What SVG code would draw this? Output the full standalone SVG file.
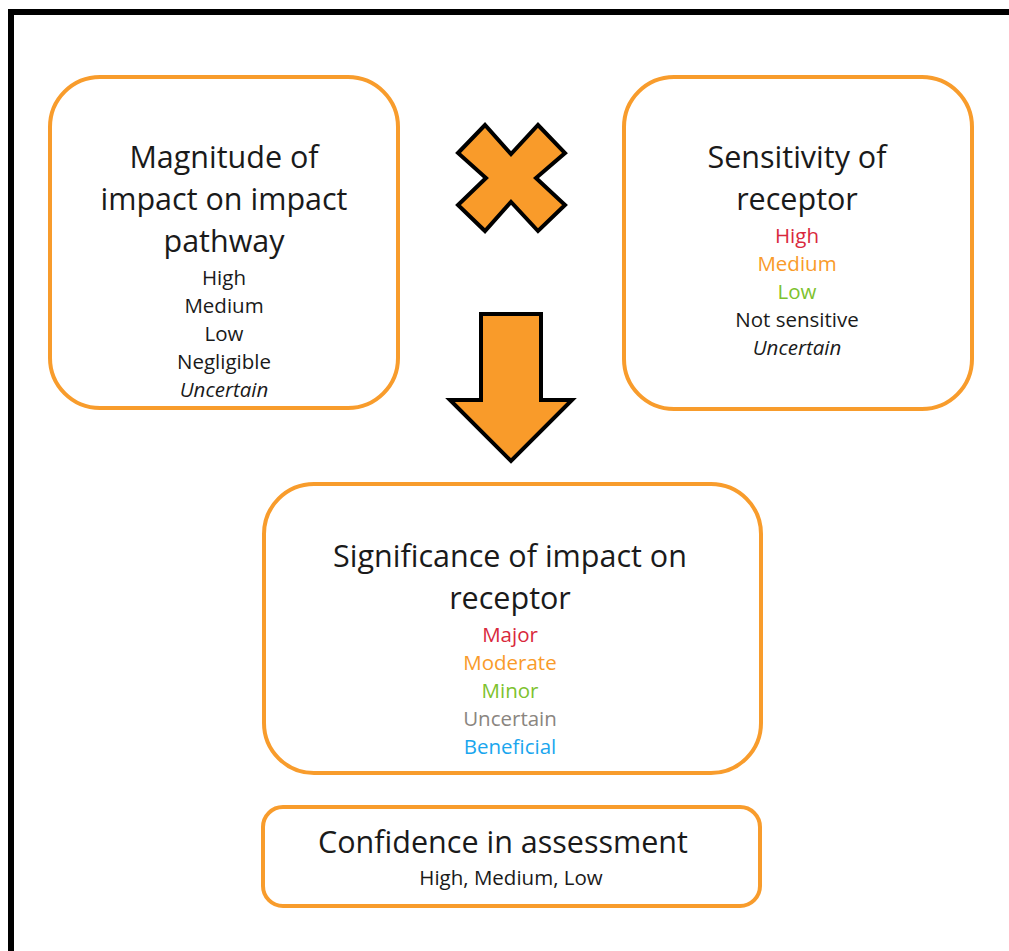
<svg xmlns="http://www.w3.org/2000/svg" width="1009" height="951" viewBox="0 0 1009 951">
<style>
.box{fill:#fff;stroke:#F89C2C;stroke-width:4}
.shape{fill:#F99B2A;stroke:#000;stroke-width:4;stroke-linejoin:miter}
text{font-family:"Open Sans","Noto Sans",sans-serif;text-anchor:middle;fill:#1a1a1a}
.t{font-size:30.5px}
.s{font-size:20.5px}
.i{font-style:italic}
.red{fill:#D9283C}
.org{fill:#F99B2A}
.grn{fill:#7DC22E}
.gry{fill:#8A8580}
.blu{fill:#1AA6EE}
</style>
<rect x="0" y="0" width="1009" height="951" fill="#fff"/>
<rect x="11" y="12" width="1010" height="960" fill="none" stroke="#000" stroke-width="6"/>
<g id="connectors">
<polygon class="shape" points="458,153 485,125 511,154 538,125 565,153 536,178 565,205 538,231 511,202 485,231 458,205 486,178"/>
<polygon class="shape" points="481,314 541,314 541,400 572,400 511,461 450,400 481,400"/>
</g>
<g id="magnitude">
<rect class="box" x="50" y="77" width="348" height="331" rx="50"/>
<text class="t" x="224" y="168">Magnitude of</text>
<text class="t" x="224" y="210">impact on impact</text>
<text class="t" x="224" y="252">pathway</text>
<text class="s" x="224" y="285">High</text>
<text class="s" x="224" y="313">Medium</text>
<text class="s" x="224" y="341">Low</text>
<text class="s" x="224" y="369">Negligible</text>
<text class="s i" x="224" y="397">Uncertain</text>
</g>
<g id="sensitivity">
<rect class="box" x="624" y="77" width="348" height="332" rx="50"/>
<text class="t" x="797" y="168">Sensitivity of</text>
<text class="t" x="797" y="210">receptor</text>
<text class="s red" x="797" y="243">High</text>
<text class="s org" x="797" y="271">Medium</text>
<text class="s grn" x="797" y="299">Low</text>
<text class="s" x="797" y="327">Not sensitive</text>
<text class="s i" x="797" y="355">Uncertain</text>
</g>
<g id="significance">
<rect class="box" x="264" y="484" width="497" height="289" rx="50"/>
<text class="t" x="510" y="567">Significance of impact on</text>
<text class="t" x="510" y="609">receptor</text>
<text class="s red" x="510" y="642">Major</text>
<text class="s org" x="510" y="670">Moderate</text>
<text class="s grn" x="510" y="698">Minor</text>
<text class="s gry" x="510" y="726">Uncertain</text>
<text class="s blu" x="510" y="754">Beneficial</text>
</g>
<g id="confidence">
<rect class="box" x="263" y="807" width="497" height="99" rx="20"/>
<text class="t" x="503" y="853">Confidence in assessment</text>
<text class="s" x="511" y="885">High, Medium, Low</text>
</g>
</svg>
